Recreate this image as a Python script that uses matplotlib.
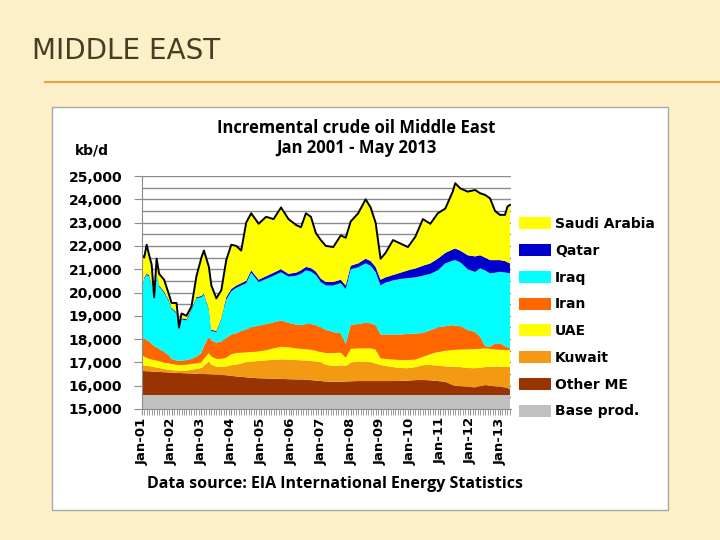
import matplotlib
matplotlib.use("Agg")
import matplotlib.pyplot as plt
from matplotlib.patches import Rectangle
from matplotlib.lines import Line2D
from matplotlib.ticker import MultipleLocator, FixedLocator, FuncFormatter
import numpy as np

# month index, 0 = Jan 2001, 148 = May 2013
months = [0, 1, 2, 3, 4, 5, 6, 7, 9, 11, 12, 14, 15, 16, 18, 20, 22, 24, 25, 27,
          28, 30, 32, 34, 36, 38, 40, 42, 44, 47, 50, 53, 56, 59, 62, 64, 66, 68, 70, 72,
          74, 77, 80, 82, 84, 87, 90, 92, 94, 96, 98, 101, 104, 107, 110, 113, 116, 119, 122, 125,
          126, 128, 131, 134, 136, 138, 140, 142, 144, 146, 147, 148]

# cumulative tops of each layer (kb/d)
top_saudi = [21600, 21500, 22050, 21600, 21200, 19800, 21450, 20800, 20550, 19900,
             19550, 19550, 18500, 19100, 19000, 19400, 20700, 21500, 21800, 21100,
             20300, 19750, 20100, 21400, 22050, 22000, 21800, 23000, 23400, 22950,
             23250, 23150, 23650, 23150, 22900, 22800, 23400, 23250, 22550, 22250,
             22000, 21950, 22450, 22350, 23050, 23400, 24000, 23650, 23000, 21450,
             21700, 22250, 22100, 21950, 22400, 23150, 22950, 23400, 23600, 24330,
             24690, 24470, 24330, 24400, 24260, 24190, 24040, 23500, 23330, 23330,
             23690, 23760]
top_qatar = [20100, 20650, 20800, 20750, 20400, 19750, 20800, 20300, 20050, 19650,
             19350, 19150, 18450, 18900, 18850, 19300, 19800, 19850, 19950, 19300,
             18400, 18350, 18900, 19800, 20150, 20300, 20400, 20500, 20950, 20550,
             20700, 20850, 21000, 20800, 20850, 20950, 21100, 21050, 20900, 20600,
             20450, 20450, 20550, 20300, 21150, 21250, 21450, 21350, 21100, 20550,
             20650, 20750, 20850, 20950, 21030, 21150, 21250, 21450, 21700, 21850,
             21890, 21800, 21600, 21550, 21600, 21500, 21390, 21390, 21390, 21350,
             21300, 21250]
top_iraq = [20050, 20600, 20750, 20700, 20350, 19700, 20750, 20250, 20000, 19600,
            19300, 19100, 18400, 18850, 18800, 19250, 19750, 19800, 19900, 19250,
            18350, 18300, 18850, 19700, 20050, 20200, 20300, 20400, 20850, 20450,
            20580, 20720, 20870, 20680, 20720, 20800, 20950, 20900, 20750, 20450,
            20300, 20300, 20400, 20150, 21000, 21080, 21250, 21150, 20880, 20300,
            20430, 20520, 20580, 20620, 20650, 20720, 20800, 20950, 21250, 21370,
            21390, 21300, 21000, 20880, 21040, 20950, 20820, 20850, 20890, 20860,
            20840, 20820]
top_iran = [18100, 18000, 17950, 17900, 17800, 17700, 17650, 17580, 17450, 17300,
            17150, 17080, 17070, 17080, 17100, 17150, 17250, 17400, 17700, 18100,
            17950, 17850, 17900, 18050, 18200, 18250, 18350, 18420, 18500, 18580,
            18650, 18720, 18800, 18700, 18620, 18600, 18650, 18650, 18600, 18500,
            18400, 18300, 18250, 17800, 18600, 18650, 18700, 18680, 18600, 18200,
            18200, 18200, 18200, 18220, 18240, 18260, 18380, 18500, 18550, 18600,
            18580, 18550, 18400, 18300, 18100, 17700, 17680, 17800, 17820, 17700,
            17650, 17600]
top_uae = [17320, 17250, 17200, 17150, 17120, 17100, 17080, 17050, 17000, 16960,
           16930, 16900, 16890, 16890, 16900, 16930, 16960, 17000, 17150, 17400,
           17250, 17150, 17150, 17200, 17350, 17400, 17420, 17430, 17450, 17480,
           17520, 17600, 17670, 17650, 17600, 17580, 17560, 17540, 17500, 17450,
           17400, 17400, 17420, 17200, 17580, 17600, 17600, 17600, 17550, 17170,
           17150, 17120, 17100, 17100, 17120, 17240, 17350, 17450, 17500, 17530,
           17540, 17550, 17560, 17570, 17580, 17600, 17580, 17550, 17540, 17530,
           17530, 17520]
top_kuwait = [16890, 16870, 16850, 16840, 16820, 16800, 16780, 16760, 16720, 16680,
              16670, 16650, 16640, 16640, 16650, 16680, 16730, 16760, 16850, 17030,
              16900, 16820, 16800, 16830, 16880, 16900, 16950, 17000, 17030, 17060,
              17090, 17110, 17130, 17120, 17100, 17090, 17080, 17060, 17040, 17000,
              16900, 16850, 16870, 16850, 16980, 17030, 17020, 17000, 16950, 16890,
              16850, 16800, 16760, 16750, 16800, 16880, 16890, 16860, 16830, 16820,
              16810, 16800, 16760, 16750, 16770, 16800, 16810, 16820, 16820, 16820,
              16810, 16800]
top_other = [16640, 16630, 16620, 16620, 16610, 16600, 16600, 16590, 16580, 16570,
             16560, 16550, 16550, 16540, 16530, 16520, 16510, 16500, 16500, 16490,
             16480, 16470, 16460, 16450, 16420, 16400, 16380, 16360, 16340, 16320,
             16310, 16300, 16290, 16280, 16270, 16270, 16260, 16240, 16220, 16200,
             16180, 16170, 16170, 16180, 16190, 16200, 16200, 16200, 16200, 16200,
             16200, 16200, 16210, 16220, 16240, 16250, 16230, 16200, 16170, 16030,
             16000, 15980, 15950, 15930, 15980, 16030, 16000, 15970, 15950, 15930,
             15900, 15850]
base_prod = 15600

labels = ["Base prod.", "Other ME", "Kuwait", "UAE", "Iran", "Iraq", "Qatar", "Saudi Arabia"]
colors = ["#C0C0C0", "#993300", "#F39A12", "#FFFF00", "#FF6600", "#00FFFF", "#0000CC", "#FFFF00"]
year_labels = ["Jan-%02d" % y for y in range(1, 14)]

x = np.array(months)
tops = np.array([np.full(len(x), base_prod), top_other, top_kuwait, top_uae,
                 top_iran, top_iraq, top_qatar, top_saudi], dtype=float)
layers = np.vstack([tops[0], np.diff(tops, axis=0)])

fig = plt.figure(figsize=(7.2, 5.4), dpi=100)
fig.patch.set_facecolor("#FDF0C9")

# slide title and rule
fig.text(32 / 720, 1 - 51 / 540, "MIDDLE EAST", fontsize=20, color="#4B3B26",
         va="center", ha="left")
fig.add_artist(Line2D([45 / 720, 1.0], [1 - 82 / 540, 1 - 82 / 540],
                      color="#E2A447", lw=1.6, transform=fig.transFigure))

# white chart picture
box = Rectangle((52 / 720, 1 - 510 / 540), 616 / 720, 403 / 540,
                transform=fig.transFigure, facecolor="white",
                edgecolor="#A8A8A8", lw=1.0, zorder=-5)
fig.patches.append(box)

ax = fig.add_axes([141.7 / 720, 1 - 409 / 540, 369 / 720, 233 / 540])
ax.set_zorder(2)
ax.set_facecolor("white")
polys = ax.stackplot(x, layers, colors=colors, labels=labels, linewidth=0)
ax.plot(x, top_saudi, color="black", lw=1.4)

ax.set_xlim(0, 148.3)
ax.set_ylim(15000, 25000)
ax.set_axisbelow(True)
ax.yaxis.set_major_locator(MultipleLocator(1000))
ax.yaxis.set_minor_locator(MultipleLocator(500))
ax.yaxis.set_major_formatter(FuncFormatter(lambda v, p: "{:,.0f}".format(v)))
ax.grid(True, which="both", axis="y", color="#8C8C8C", lw=1.0)
ax.xaxis.set_major_locator(FixedLocator(np.arange(0, 149, 12)))
ax.xaxis.set_minor_locator(MultipleLocator(1))
ax.set_xticklabels(year_labels, rotation=90, fontsize=9.5, fontweight="bold")
for lab in ax.get_yticklabels():
    lab.set_fontweight("bold")
    lab.set_fontsize(10)
ax.tick_params(axis="y", which="major", length=6, color="#8C8C8C", pad=8)
ax.tick_params(axis="y", which="minor", length=0)
ax.tick_params(axis="x", which="both", length=4, color="#8C8C8C", pad=2)
for side in ["top", "right"]:
    ax.spines[side].set_visible(False)
for side in ["left", "bottom"]:
    ax.spines[side].set_color("#8C8C8C")

title_font = dict(family="Open Sans", weight="bold", stretch="normal")
fig.text(356 / 720, 1 - 128 / 540, "Incremental crude oil Middle East", fontsize=12,
         ha="center", va="center", **title_font)
fig.text(356 / 720, 1 - 148 / 540, "Jan 2001 - May 2013", fontsize=12,
         ha="center", va="center", **title_font)
fig.text(75 / 720, 1 - 151 / 540, "kb/d", fontsize=10, fontweight="bold",
         ha="left", va="center")
fig.text(335 / 720, 1 - 484 / 540, "Data source: EIA International Energy Statistics",
         fontsize=11.5, ha="center", va="center", **title_font)

fig.legend(polys[::-1], labels[::-1], loc="upper left",
           bbox_to_anchor=(519 / 720, 1 - 217 / 540), frameon=False,
           prop={"weight": "bold", "size": 10}, handlelength=2.3, handleheight=0.95,
           handletextpad=0.3, labelspacing=0.92, borderpad=0, borderaxespad=0)

fig.savefig("out.png", dpi=100, facecolor=fig.get_facecolor())
